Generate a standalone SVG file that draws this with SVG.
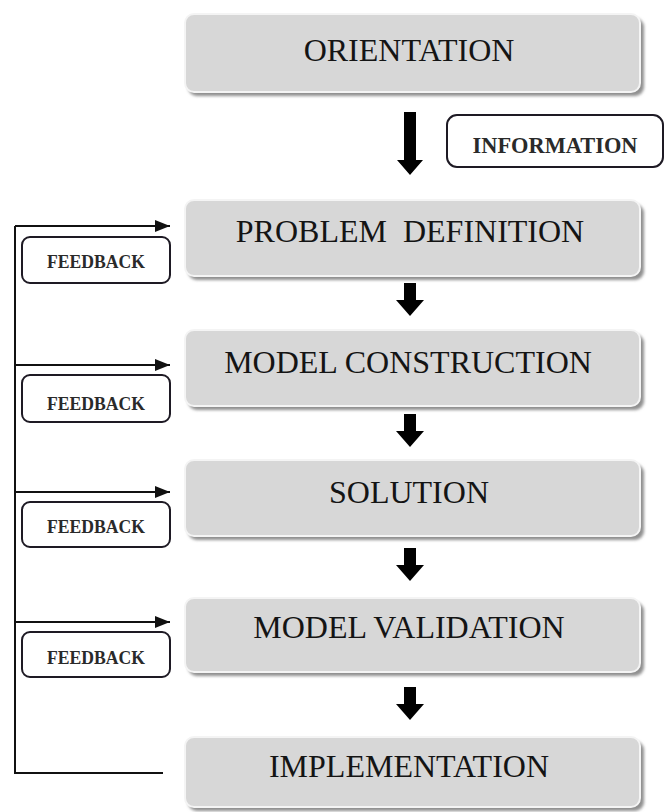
<svg xmlns="http://www.w3.org/2000/svg" xmlns:xlink="http://www.w3.org/1999/xlink" width="668" height="812" viewBox="0 0 668 812">
  <style>
    .stage-bg { fill: #d7d7d7; stroke: #f4f4f4; stroke-width: 2; }
    .stage-shadow { fill: #8f8f8f; filter: url(#soft); }
    .stage-text { font-family: "Liberation Serif", "Times New Roman", serif; font-size: 32px; fill: #141414; text-anchor: middle; }
    .tag-box { fill: #ffffff; stroke: #1e1a24; stroke-width: 2; }
    .tag-text { font-family: "Liberation Serif", "Times New Roman", serif; fill: #2a2a2a; text-anchor: middle; font-weight: bold; }
    .loop { fill: none; stroke: #111; stroke-width: 2; }
    .flow { fill: #000; }
  </style>
  <defs>
    <filter id="soft" x="-5%" y="-20%" width="110%" height="140%">
      <feGaussianBlur stdDeviation="1.6"/>
    </filter>
    <marker id="head" markerUnits="userSpaceOnUse" markerWidth="16" markerHeight="12" refX="15" refY="6" orient="auto">
      <path d="M0,0 L15,6 L0,12 Z" fill="#111"/>
    </marker>
    <!-- short block arrow between stages, origin at top of shaft centre -->
    <path id="step" d="M-6,0 H6 V17 H14 L0,33 L-14,17 H-6 Z"/>
  </defs>

  <rect width="668" height="812" fill="#ffffff"/>

  <!-- stages -->
  <g id="orientation">
    <rect class="stage-shadow" x="188" y="18" width="456" height="78" rx="9"/>
    <rect class="stage-bg" x="185" y="14" width="455" height="78" rx="9"/>
    <text class="stage-text" x="409" y="61">ORIENTATION</text>
  </g>
  <g id="problem-definition">
    <rect class="stage-shadow" x="188" y="204" width="456" height="76" rx="9"/>
    <rect class="stage-bg" x="185" y="200" width="455" height="76" rx="9"/>
    <text class="stage-text" x="410" y="242" xml:space="preserve">PROBLEM  DEFINITION</text>
  </g>
  <g id="model-construction">
    <rect class="stage-shadow" x="188" y="334" width="456" height="76" rx="9"/>
    <rect class="stage-bg" x="185" y="330" width="455" height="76" rx="9"/>
    <text class="stage-text" x="408" y="373">MODEL CONSTRUCTION</text>
  </g>
  <g id="solution">
    <rect class="stage-shadow" x="188" y="464" width="456" height="76" rx="9"/>
    <rect class="stage-bg" x="185" y="460" width="455" height="76" rx="9"/>
    <text class="stage-text" x="409" y="503">SOLUTION</text>
  </g>
  <g id="model-validation">
    <rect class="stage-shadow" x="188" y="602" width="456" height="74" rx="9"/>
    <rect class="stage-bg" x="185" y="598" width="455" height="74" rx="9"/>
    <text class="stage-text" x="409" y="638">MODEL VALIDATION</text>
  </g>
  <g id="implementation">
    <rect class="stage-shadow" x="188" y="741" width="456" height="70" rx="9"/>
    <rect class="stage-bg" x="185" y="737" width="455" height="70" rx="9"/>
    <text class="stage-text" x="409" y="777">IMPLEMENTATION</text>
  </g>

  <!-- labels -->
  <g id="information">
    <rect class="tag-box" x="447" y="115" width="216" height="52" rx="10"/>
    <text class="tag-text" x="555" y="153" font-size="23" textLength="165" lengthAdjust="spacingAndGlyphs">INFORMATION</text>
  </g>
  <g id="feedback-1">
    <rect class="tag-box" x="22" y="237" width="148" height="46" rx="8"/>
    <text class="tag-text" x="96" y="268" font-size="18" textLength="98" lengthAdjust="spacingAndGlyphs">FEEDBACK</text>
  </g>
  <g id="feedback-2">
    <rect class="tag-box" x="22" y="375" width="148" height="47" rx="8"/>
    <text class="tag-text" x="96" y="410" font-size="18" textLength="98" lengthAdjust="spacingAndGlyphs">FEEDBACK</text>
  </g>
  <g id="feedback-3">
    <rect class="tag-box" x="22" y="502" width="148" height="45" rx="8"/>
    <text class="tag-text" x="96" y="533" font-size="18" textLength="98" lengthAdjust="spacingAndGlyphs">FEEDBACK</text>
  </g>
  <g id="feedback-4">
    <rect class="tag-box" x="22" y="632" width="148" height="45" rx="8"/>
    <text class="tag-text" x="96" y="664" font-size="18" textLength="98" lengthAdjust="spacingAndGlyphs">FEEDBACK</text>
  </g>

  <!-- connectors -->
  <g id="connectors">
    <path class="flow" d="M404,112 H416 V160 H423 L410,175 L397,160 H404 Z"/>
    <use href="#step" xlink:href="#step" class="flow" transform="translate(410,283)"/>
    <use href="#step" xlink:href="#step" class="flow" transform="translate(410,414)"/>
    <use href="#step" xlink:href="#step" class="flow" transform="translate(410,548)"/>
    <use href="#step" xlink:href="#step" class="flow" transform="translate(410,687)"/>

    <path class="loop" d="M163,773 H15 V226"/>
    <line class="loop" x1="15" y1="226" x2="170" y2="226" marker-end="url(#head)"/>
    <line class="loop" x1="15" y1="365" x2="170" y2="365" marker-end="url(#head)"/>
    <line class="loop" x1="15" y1="492" x2="170" y2="492" marker-end="url(#head)"/>
    <line class="loop" x1="15" y1="622" x2="170" y2="622" marker-end="url(#head)"/>
  </g>
</svg>
